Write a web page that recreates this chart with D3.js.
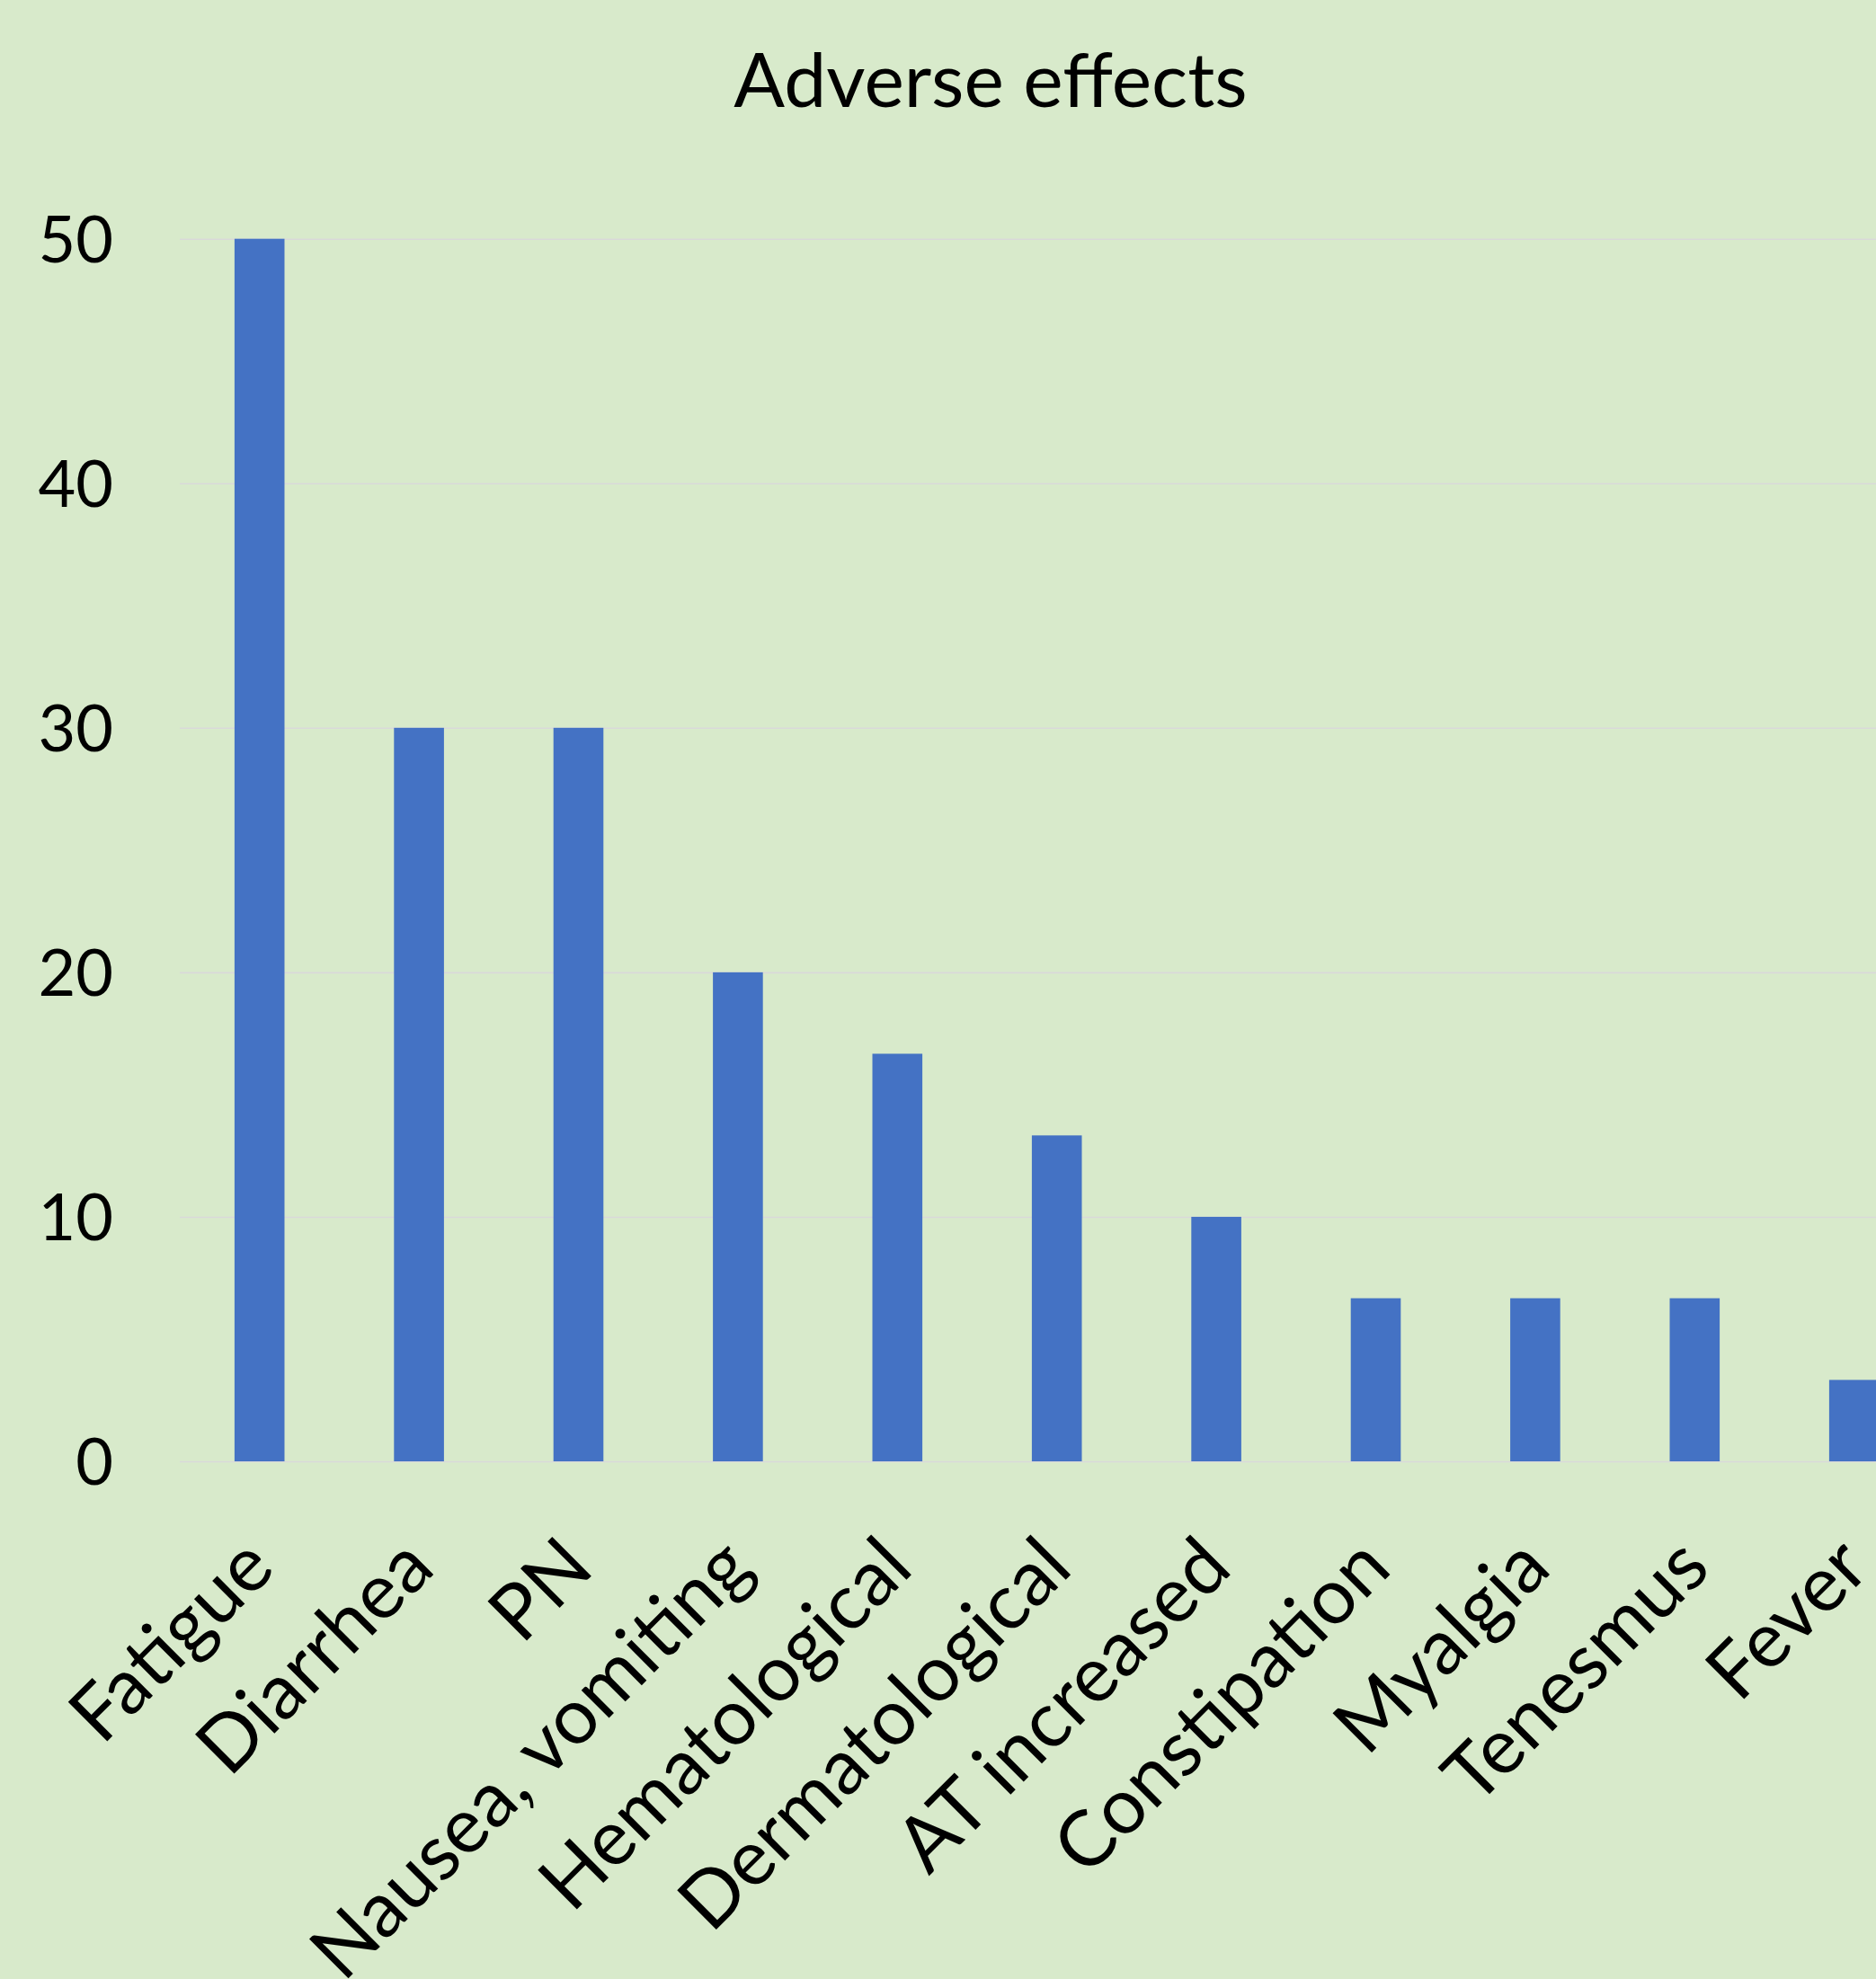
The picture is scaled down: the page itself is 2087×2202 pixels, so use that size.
<!DOCTYPE html>
<html>
<head>
<meta charset="utf-8">
<script src="https://cdn.jsdelivr.net/npm/d3@7"></script>
<style>
  html, body { margin: 0; padding: 0; background: #d8eacb; }
  svg { display: block; }
</style>
</head>
<body>
<svg id="chart" width="2087" height="2202"></svg>
<script>
// Adverse effects (% of patients)
const categories = ["Fatigue", "Diarrhea", "PN", "Nausea, vomiting", "Hematological",
  "Dermatological", "AT increased", "Constipation", "Myalgia", "Tenesmus", "Fever"];
const values = [50, 30, 30, 20, 16.67, 13.33, 10, 6.67, 6.67, 6.67, 3.33];
const yTicks = [0, 10, 20, 30, 40, 50];
const title = "Adverse effects";

const W = 2087, H = 2202;
const FONT = "Lato, 'Open Sans', sans-serif";
const plot = { left: 200, right: 2151.4, top: 265.7, bottom: 1626 };

const svg = d3.select("#chart");

svg.append("rect").attr("width", W).attr("height", H).attr("fill", "#d8eacb");

const x = d3.scaleBand()
  .domain(categories)
  .range([plot.left, plot.right])
  .paddingInner(0.6866)
  .paddingOuter(0.3433);

const y = d3.scaleLinear().domain([0, 50]).range([plot.bottom, plot.top]);

// Horizontal gridlines and value labels
const yAxis = svg.append("g")
  .attr("transform", `translate(${plot.left},0)`)
  .call(d3.axisLeft(y).tickValues(yTicks).tickSize(-(plot.right - plot.left)).tickPadding(74));
yAxis.select(".domain").remove();
yAxis.selectAll(".tick line").attr("stroke", "#d9d9d9").attr("stroke-width", 1.6);
yAxis.selectAll(".tick text")
  .attr("font-family", FONT).attr("font-size", 72).attr("fill", "#000")
  .attr("dy", "0.36em");

// Bars
svg.append("g").selectAll("rect")
  .data(values)
  .join("rect")
  .attr("x", (d, i) => x(categories[i]))
  .attr("width", x.bandwidth())
  .attr("y", d => y(d))
  .attr("height", d => y(0) - y(d))
  .attr("fill", "#4472c4");

// Category labels, rotated
const xAxis = svg.append("g")
  .attr("transform", `translate(0,${plot.bottom})`)
  .call(d3.axisBottom(x).tickSize(0));
xAxis.select(".domain").remove();
xAxis.selectAll(".tick text")
  .attr("font-family", FONT).attr("font-size", 86).attr("fill", "#000")
  .attr("text-anchor", "end")
  .attr("x", 0).attr("y", 0).attr("dy", 0)
  .attr("transform", "translate(20,122) rotate(-45)");

// Title
svg.append("text")
  .attr("x", 1102).attr("y", 119)
  .attr("text-anchor", "middle")
  .attr("font-family", FONT).attr("font-size", 84).attr("fill", "#000")
  .text(title);
</script>
</body>
</html>
